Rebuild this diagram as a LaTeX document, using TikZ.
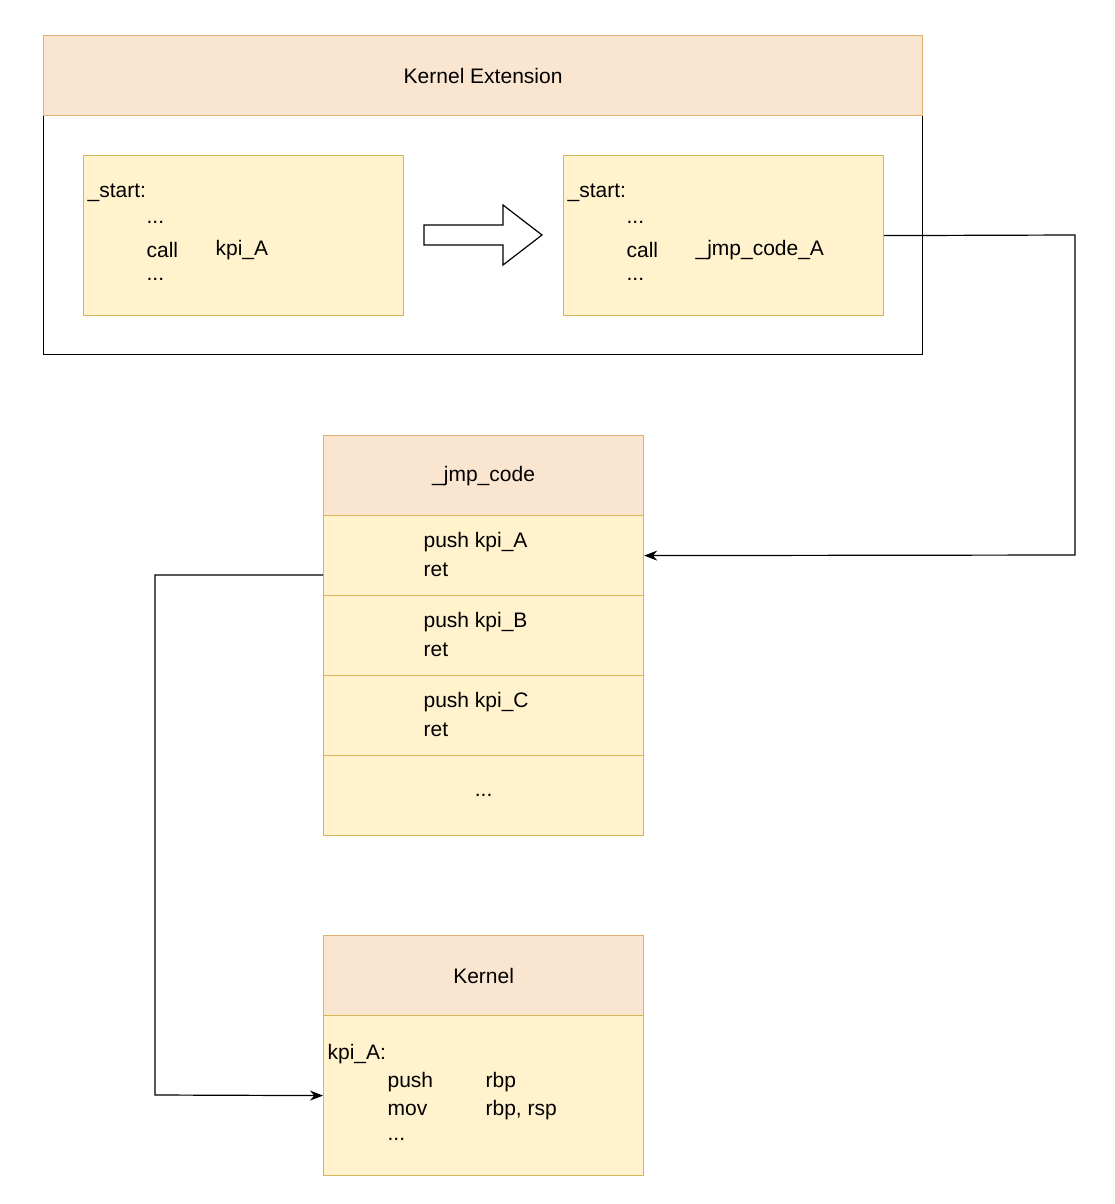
\documentclass[tikz,border=0pt]{standalone}
\usepackage{fontspec}
\setmainfont{Liberation Sans}
\usetikzlibrary{arrows.meta,positioning}
\definecolor{hdrfill}{HTML}{FAE6D0}
\definecolor{hdrline}{HTML}{E0B070}
\definecolor{boxfill}{HTML}{FFF2CC}
\definecolor{boxline}{HTML}{D6B656}
\tikzset{every picture/.style={line width=1.2pt}}
\tikzset{
  hdr/.style={draw=hdrline,fill=hdrfill,anchor=north west,inner sep=0pt,minimum height=80pt},
  cell/.style={draw=boxline,fill=boxfill,anchor=north west,inner sep=0pt,minimum width=320pt,minimum height=80pt},
  txt/.style={anchor=west,inner sep=0pt},
  link/.style={draw=black,-{Stealth[length=13pt,width=10pt]}}
}
\begin{document}
\begin{tikzpicture}[x=1pt,y=-1pt,font=\fontsize{21}{26}\selectfont]
\useasboundingbox (0,0) rectangle (1114,1204);
% kernel extension
\node[draw=black,fill=white,anchor=north west,inner sep=0pt,minimum width=879pt,minimum height=239pt] (ext) at (43,115) {};
\node[hdr,minimum width=879pt] (exthdr) at (43,35) {Kernel Extension};
\node[cell,minimum height=160pt] (src) at (83,155) {};
\node[cell,minimum height=160pt] (dst) at (563,155) {};
\node[txt] (s1) at (87,193) {\_start:};
\node[txt] at (146,222) {...};
\node[txt] at (146,250) {call};
\node[txt] at (215,250) {kpi\_A};
\node[txt] at (146,279) {...};
\node[txt] (d1) at (567,193) {\_start:};
\node[txt] at (626,222) {...};
\node[txt] at (626,250) {call};
\node[txt] at (695,250) {\_jmp\_code\_A};
\node[txt] at (626,279) {...};
% hollow arrow
\draw[fill=white] (424,225) -- (503,225) -- (503,205) -- (542,235) -- (503,265) -- (503,245) -- (424,245) -- cycle;
% jmp code table
\node[hdr,minimum width=320pt] (jmphdr) at (323,435) {\_jmp\_code};
\foreach \i/\name in {0/A,1/B,2/C}{
  \node[cell] (row\name) at (323,515+80*\i) {};
  \node[txt] at (423,542+80*\i) {push kpi\_\name};
  \node[txt] at (423,570+80*\i) {ret};
}
\node[cell] (rowD) at (323,755) {...};
% kernel
\node[hdr,minimum width=320pt] (kerhdr) at (323,935) {Kernel};
\node[cell,minimum height=160pt] (ker) at (323,1015) {};
\node[txt] at (327,1054) {kpi\_A:};
\node[txt] at (387,1082) {push};
\node[txt] at (485,1082) {rbp};
\node[txt] at (387,1110) {mov};
\node[txt] at (485,1110) {rbp, rsp};
\node[txt] at (387,1139) {...};
% connectors
\coordinate (c1) at (1075,235);
\coordinate (c2) at (1075,555);
\draw[link] (dst.east) -- (c1) -- (c2) -- (rowA.east);
\coordinate (c3) at (323,575);
\coordinate (c4) at (155,575);
\coordinate (c5) at (155,1095);
\draw[link] (c3) -- (c4) -- (c5) -- (ker.west);
\end{tikzpicture}
\end{document}
